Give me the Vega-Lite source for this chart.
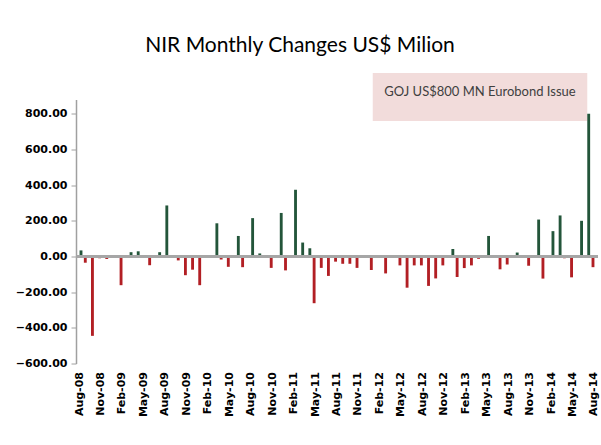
{
  "$schema": "https://vega.github.io/schema/vega-lite/v6.json",
  "width": 522,
  "height": 264,
  "autosize": {"type": "none"},
  "padding": {"left": 76, "top": 99.5, "right": 3, "bottom": 81.5},
  "background": "white",
  "title": {"text": "NIR Monthly Changes US$ Milion", "font": "Lato", "fontSize": 21, "fontWeight": "normal", "color": "#000000", "anchor": "middle", "frame": "group", "dx": -37, "offset": 17},
  "config": {
    "view": {"stroke": null},
    "axisX": {"title": null, "domain": false, "ticks": false, "grid": false, "labelAngle": 270, "labelAlign": "right", "labelBaseline": "middle", "labelPadding": 8, "labelOverlap": false, "labelFont": "DejaVu Sans", "labelFontWeight": "bold", "labelFontSize": 11, "labelColor": "#000000"},
    "axisY": {"title": null, "grid": false, "domainColor": "#a0a0a0", "domainWidth": 1.5, "tickColor": "#a0a0a0", "tickSize": 5, "labelPadding": 4, "labelOverlap": false, "labelFlush": false, "labelFont": "DejaVu Sans", "labelFontWeight": "bold", "labelFontSize": 11, "labelColor": "#000000"}
  },
  "layer": [
    {
      "data": {"values": [{"start": "Jan-12", "end": "Jul-14", "top": 1029, "bottom": 760, "center": "Apr-13", "ypos": 922, "label": "GOJ US$800  MN Eurobond Issue"}]},
      "layer": [
        {
          "mark": {"type": "rect", "color": "#f2dcdb", "clip": false},
          "encoding": {
            "x": {"field": "start", "type": "ordinal", "bandPosition": 0.5, "title": null},
            "x2": {"field": "end", "bandPosition": 0.5},
            "y": {"field": "top", "type": "quantitative", "title": null},
            "y2": {"field": "bottom"}
          }
        },
        {
          "mark": {"type": "text", "font": "Lato", "fontSize": 13, "color": "#404040", "clip": false},
          "encoding": {
            "x": {"field": "center", "type": "ordinal", "title": null},
            "y": {"field": "ypos", "type": "quantitative", "title": null},
            "text": {"field": "label"}
          }
        }
      ]
    },
    {
      "data": {"values": [
        {"month": "Aug-08", "value": 34, "series": "Increase"},
        {"month": "Sep-08", "value": -35, "series": "Decrease"},
        {"month": "Oct-08", "value": -445, "series": "Decrease"},
        {"month": "Nov-08", "value": -10, "series": "Decrease"},
        {"month": "Dec-08", "value": -14, "series": "Decrease"},
        {"month": "Jan-09", "value": -5, "series": "Decrease"},
        {"month": "Feb-09", "value": -161, "series": "Decrease"},
        {"month": "Mar-09", "value": 24, "series": "Increase"},
        {"month": "Apr-09", "value": 29, "series": "Increase"},
        {"month": "May-09", "value": 6, "series": "Increase"},
        {"month": "Jun-09", "value": -49, "series": "Decrease"},
        {"month": "Jul-09", "value": 24, "series": "Increase"},
        {"month": "Aug-09", "value": 286, "series": "Increase"},
        {"month": "Sep-09", "value": -5, "series": "Decrease"},
        {"month": "Oct-09", "value": -22, "series": "Decrease"},
        {"month": "Nov-09", "value": -105, "series": "Decrease"},
        {"month": "Dec-09", "value": -74, "series": "Decrease"},
        {"month": "Jan-10", "value": -161, "series": "Decrease"},
        {"month": "Feb-10", "value": -5, "series": "Decrease"},
        {"month": "Mar-10", "value": 186, "series": "Increase"},
        {"month": "Apr-10", "value": -17, "series": "Decrease"},
        {"month": "May-10", "value": -58, "series": "Decrease"},
        {"month": "Jun-10", "value": 115, "series": "Increase"},
        {"month": "Jul-10", "value": -60, "series": "Decrease"},
        {"month": "Aug-10", "value": 215, "series": "Increase"},
        {"month": "Sep-10", "value": 17, "series": "Increase"},
        {"month": "Oct-10", "value": 6, "series": "Increase"},
        {"month": "Nov-10", "value": -64, "series": "Decrease"},
        {"month": "Dec-10", "value": 244, "series": "Increase"},
        {"month": "Jan-11", "value": -78, "series": "Decrease"},
        {"month": "Feb-11", "value": 374, "series": "Increase"},
        {"month": "Mar-11", "value": 78, "series": "Increase"},
        {"month": "Apr-11", "value": 46, "series": "Increase"},
        {"month": "May-11", "value": -262, "series": "Decrease"},
        {"month": "Jun-11", "value": -64, "series": "Decrease"},
        {"month": "Jul-11", "value": -109, "series": "Decrease"},
        {"month": "Aug-11", "value": -29, "series": "Decrease"},
        {"month": "Sep-11", "value": -41, "series": "Decrease"},
        {"month": "Oct-11", "value": -41, "series": "Decrease"},
        {"month": "Nov-11", "value": -64, "series": "Decrease"},
        {"month": "Dec-11", "value": -6, "series": "Decrease"},
        {"month": "Jan-12", "value": -76, "series": "Decrease"},
        {"month": "Feb-12", "value": -8, "series": "Decrease"},
        {"month": "Mar-12", "value": -95, "series": "Decrease"},
        {"month": "Apr-12", "value": -6, "series": "Decrease"},
        {"month": "May-12", "value": -50, "series": "Decrease"},
        {"month": "Jun-12", "value": -175, "series": "Decrease"},
        {"month": "Jul-12", "value": -50, "series": "Decrease"},
        {"month": "Aug-12", "value": -50, "series": "Decrease"},
        {"month": "Sep-12", "value": -165, "series": "Decrease"},
        {"month": "Oct-12", "value": -123, "series": "Decrease"},
        {"month": "Nov-12", "value": -50, "series": "Decrease"},
        {"month": "Dec-12", "value": 42, "series": "Increase"},
        {"month": "Jan-13", "value": -115, "series": "Decrease"},
        {"month": "Feb-13", "value": -65, "series": "Decrease"},
        {"month": "Mar-13", "value": -50, "series": "Decrease"},
        {"month": "Apr-13", "value": -13, "series": "Decrease"},
        {"month": "May-13", "value": 115, "series": "Increase"},
        {"month": "Jun-13", "value": 5, "series": "Increase"},
        {"month": "Jul-13", "value": -72, "series": "Decrease"},
        {"month": "Aug-13", "value": -45, "series": "Decrease"},
        {"month": "Sep-13", "value": 22, "series": "Increase"},
        {"month": "Oct-13", "value": -8, "series": "Decrease"},
        {"month": "Nov-13", "value": -52, "series": "Decrease"},
        {"month": "Dec-13", "value": 207, "series": "Increase"},
        {"month": "Jan-14", "value": -124, "series": "Decrease"},
        {"month": "Feb-14", "value": 142, "series": "Increase"},
        {"month": "Mar-14", "value": 230, "series": "Increase"},
        {"month": "Apr-14", "value": -10, "series": "Decrease"},
        {"month": "May-14", "value": -117, "series": "Decrease"},
        {"month": "Jun-14", "value": 200, "series": "Increase"},
        {"month": "Jul-14", "value": 800, "series": "Increase"},
        {"month": "Aug-14", "value": -60, "series": "Decrease"}
      ]},
      "layer": [
        {
          "mark": {"type": "bar"},
          "encoding": {
            "x": {
              "field": "month", "type": "ordinal", "title": null,
              "scale": {"paddingInner": 0, "paddingOuter": 0, "domain": ["Aug-08","Sep-08","Oct-08","Nov-08","Dec-08","Jan-09","Feb-09","Mar-09","Apr-09","May-09","Jun-09","Jul-09","Aug-09","Sep-09","Oct-09","Nov-09","Dec-09","Jan-10","Feb-10","Mar-10","Apr-10","May-10","Jun-10","Jul-10","Aug-10","Sep-10","Oct-10","Nov-10","Dec-10","Jan-11","Feb-11","Mar-11","Apr-11","May-11","Jun-11","Jul-11","Aug-11","Sep-11","Oct-11","Nov-11","Dec-11","Jan-12","Feb-12","Mar-12","Apr-12","May-12","Jun-12","Jul-12","Aug-12","Sep-12","Oct-12","Nov-12","Dec-12","Jan-13","Feb-13","Mar-13","Apr-13","May-13","Jun-13","Jul-13","Aug-13","Sep-13","Oct-13","Nov-13","Dec-13","Jan-14","Feb-14","Mar-14","Apr-14","May-14","Jun-14","Jul-14","Aug-14"]},
              "axis": {"values": ["Aug-08","Nov-08","Feb-09","May-09","Aug-09","Nov-09","Feb-10","May-10","Aug-10","Nov-10","Feb-11","May-11","Aug-11","Nov-11","Feb-12","May-12","Aug-12","Nov-12","Feb-13","May-13","Aug-13","Nov-13","Feb-14","May-14","Aug-14"]}
            },
            "xOffset": {"field": "series", "scale": {"domain": ["Decrease", "Increase"], "paddingInner": 0, "paddingOuter": 0.25}},
            "y": {
              "field": "value", "type": "quantitative", "title": null,
              "scale": {"domain": [-600, 880], "nice": false, "zero": false},
              "axis": {"values": [-600, -400, -200, 0, 200, 400, 600, 800], "tickCount": 20, "format": ".2f", "labelOverlap": false}
            },
            "color": {"field": "series", "type": "nominal", "scale": {"domain": ["Decrease", "Increase"], "range": ["#b21f24", "#23553a"]}, "legend": null}
          }
        },
        {
          "mark": {"type": "rule", "color": "#a6a6a6", "strokeWidth": 2},
          "encoding": {"y": {"datum": 0, "type": "quantitative"}}
        }
      ]
    }
  ]
}
